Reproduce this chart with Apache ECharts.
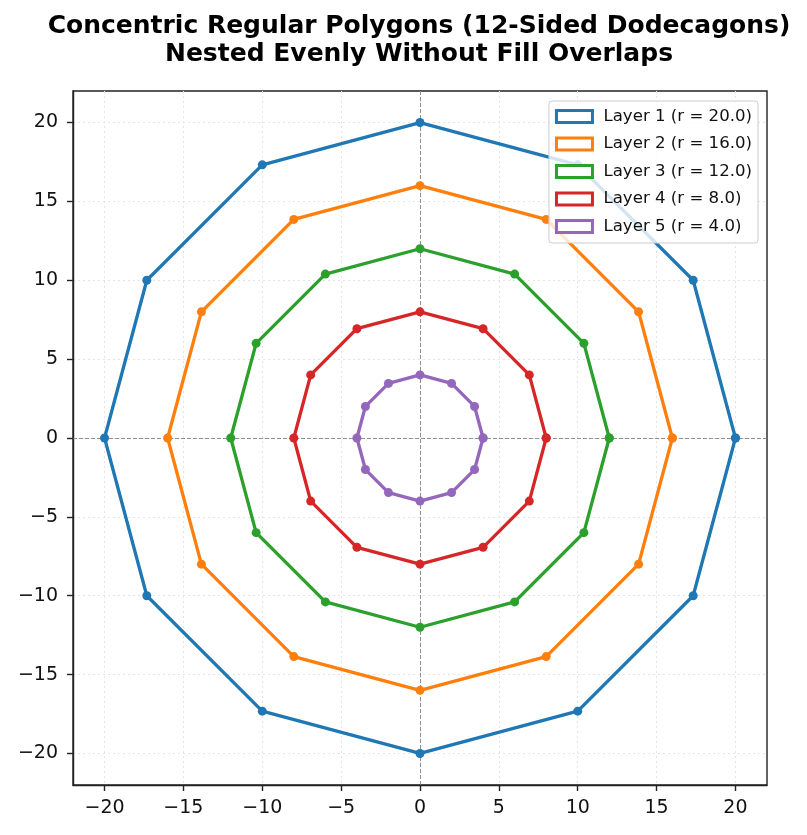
<!DOCTYPE html>
<html>
<head>
<meta charset="utf-8">
<script src="https://cdn.jsdelivr.net/npm/echarts@6/dist/echarts.min.js"></script>
<style>
  html, body { margin: 0; padding: 0; background: #fff; }
  #main { width: 807px; height: 835px; }
</style>
</head>
<body>
<div id="main"></div>
<script>
var layerNames = ['Layer 1 (r = 20.0)', 'Layer 2 (r = 16.0)', 'Layer 3 (r = 12.0)', 'Layer 4 (r = 8.0)', 'Layer 5 (r = 4.0)'];
var layerColors = ['#1f77b4', '#ff7f0e', '#2ca02c', '#d62728', '#9467bd'];

// vertices, closed back to the first point
var layer1 = [[20, 0], [17.32, 10], [10, 17.32], [0, 20], [-10, 17.32], [-17.32, 10], [-20, 0],
  [-17.32, -10], [-10, -17.32], [0, -20], [10, -17.32], [17.32, -10], [20, 0]];
var layer2 = [[16, 0], [13.86, 8], [8, 13.86], [0, 16], [-8, 13.86], [-13.86, 8], [-16, 0],
  [-13.86, -8], [-8, -13.86], [0, -16], [8, -13.86], [13.86, -8], [16, 0]];
var layer3 = [[12, 0], [10.39, 6], [6, 10.39], [0, 12], [-6, 10.39], [-10.39, 6], [-12, 0],
  [-10.39, -6], [-6, -10.39], [0, -12], [6, -10.39], [10.39, -6], [12, 0]];
var layer4 = [[8, 0], [6.93, 4], [4, 6.93], [0, 8], [-4, 6.93], [-6.93, 4], [-8, 0],
  [-6.93, -4], [-4, -6.93], [0, -8], [4, -6.93], [6.93, -4], [8, 0]];
var layer5 = [[4, 0], [3.46, 2], [2, 3.46], [0, 4], [-2, 3.46], [-3.46, 2], [-4, 0],
  [-3.46, -2], [-2, -3.46], [0, -4], [2, -3.46], [3.46, -2], [4, 0]];
var layerData = [layer1, layer2, layer3, layer4, layer5];

var axisMin = -22;
var axisMax = 22;
var tickValues = [-20, -15, -10, -5, 0, 5, 10, 15, 20];

function fmt(v) {
  return v < 0 ? '\u2212' + Math.abs(v) : String(v);
}

var myChart = echarts.init(document.getElementById('main'));

function makeAxis(margin) {
  return {
    type: 'value',
    min: axisMin,
    max: axisMax,
    axisLine: { show: true, onZero: false, lineStyle: { color: '#222', width: 1.4 } },
    axisTick: {
      show: true, length: 6, inside: false, customValues: tickValues,
      lineStyle: { color: '#222', width: 1.4 }
    },
    axisLabel: {
      color: '#111', fontSize: 19, fontFamily: 'DejaVu Sans', margin: margin,
      customValues: tickValues,
      formatter: fmt
    },
    splitLine: { show: true, lineStyle: { color: '#e4e4e4', type: [2, 3], width: 1 } }
  };
}

var series = layerData.map(function (pts, i) {
  var s = {
    name: layerNames[i],
    type: 'line',
    data: pts,
    color: layerColors[i],
    symbol: 'circle',
    symbolSize: 9,
    lineStyle: { width: 3.3, color: layerColors[i] },
    itemStyle: { color: layerColors[i] },
    animation: false,
    z: 3
  };
  if (i === 0) {
    s.markLine = {
      silent: true,
      symbol: 'none',
      label: { show: false },
      lineStyle: { color: '#777', type: [4, 2], width: 0.8 },
      z: 1,
      data: [{ xAxis: 0 }, { yAxis: 0 }]
    };
  }
  return s;
});

var option = {
  backgroundColor: '#fff',
  animation: false,
  title: {
    text: 'Concentric Regular Polygons (12-Sided Dodecagons)\nNested Evenly Without Fill Overlaps',
    left: 414,
    textAlign: 'center',
    top: 7,
    textStyle: {
      fontFamily: 'DejaVu Sans', fontWeight: 'bold', fontSize: 25, lineHeight: 28, color: '#000'
    }
  },
  grid: {
    left: 73, right: 40, top: 91, bottom: 50,
    show: true, borderColor: '#222', borderWidth: 1.4
  },
  legend: {
    right: 49, top: 101,
    orient: 'vertical',
    icon: 'rect',
    itemWidth: 36, itemHeight: 12,
    itemGap: 10.5,
    padding: [7, 6, 8, 6],
    backgroundColor: 'rgba(255,255,255,0.8)',
    borderColor: '#ccc', borderWidth: 1, borderRadius: 3,
    textStyle: { fontFamily: 'DejaVu Sans', fontSize: 16.6, color: '#111', padding: [0, 0, 0, 6] },
    data: layerNames.map(function (n, i) {
      return { name: n, itemStyle: { color: '#fff', borderColor: layerColors[i], borderWidth: 3 } };
    })
  },
  xAxis: makeAxis(14),
  yAxis: makeAxis(15),
  series: series
};

myChart.setOption(option);
</script>
</body>
</html>
